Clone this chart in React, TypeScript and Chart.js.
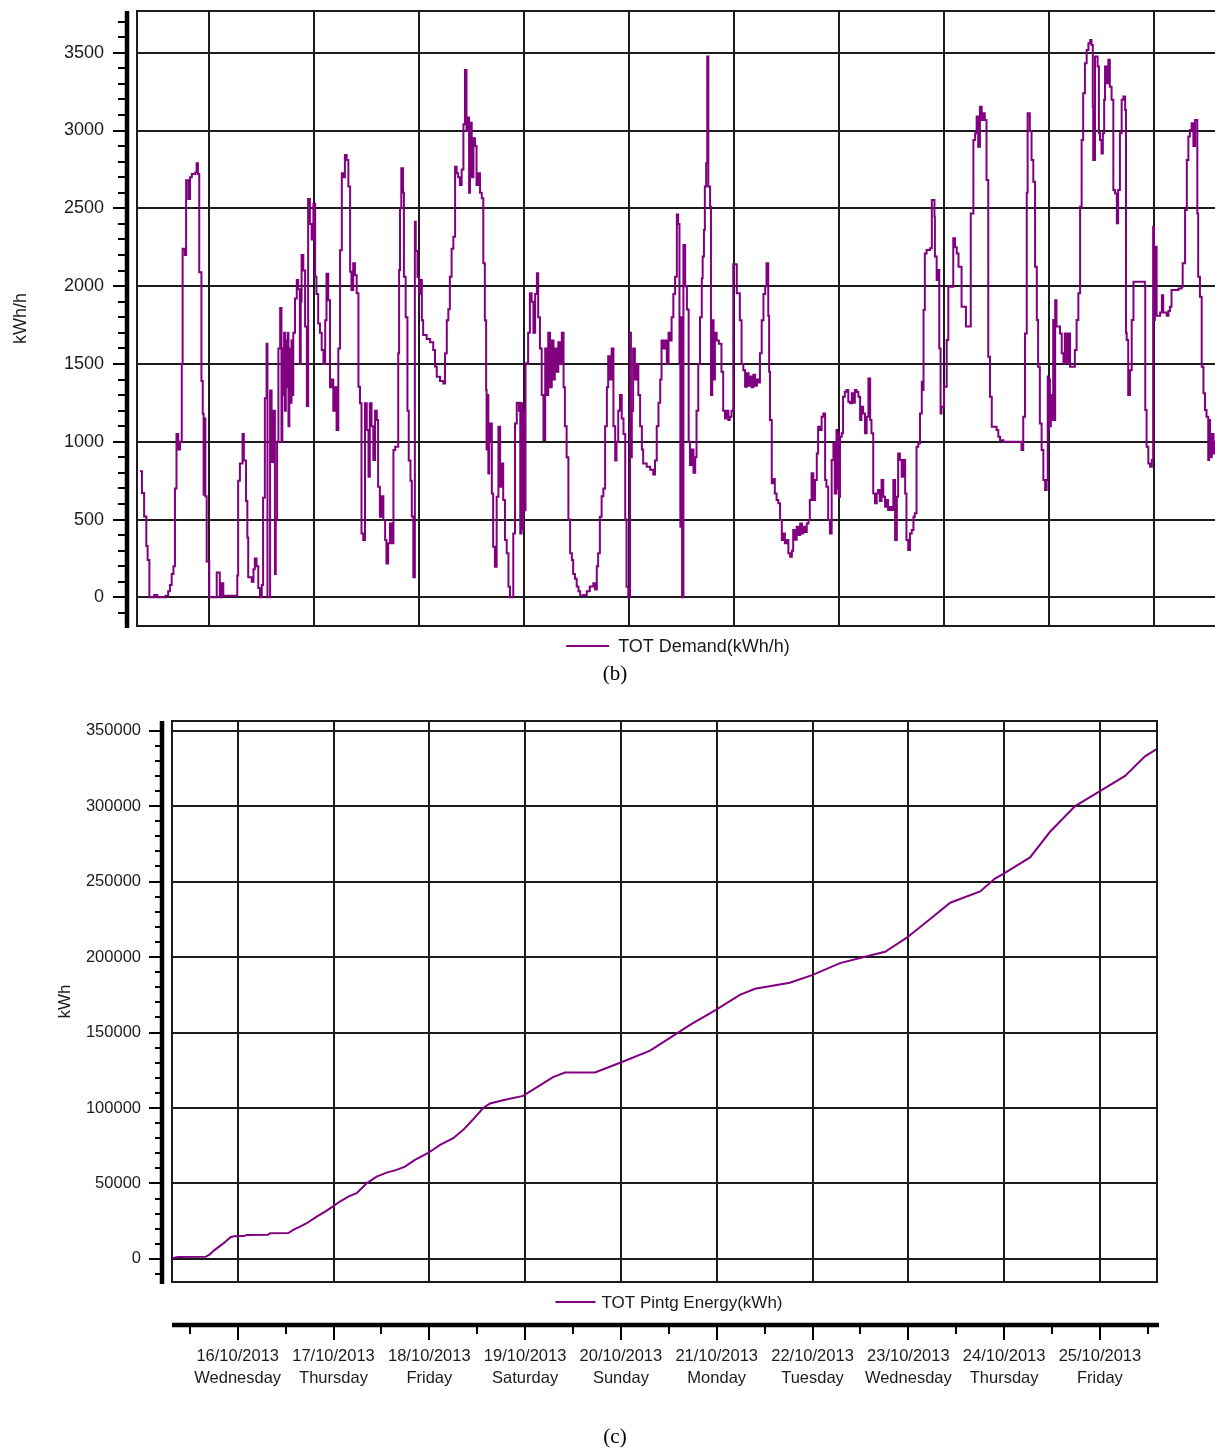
import { useEffect, useRef } from 'react';
import { Chart, registerables } from 'chart.js';

Chart.register(...registerables);

const PURPLE = '#800080';
const INK = '#1c1c1c';
const SANS = '"Liberation Sans", Arial, sans-serif';

// x axis: hours since 16/10/2013 00:00
const dayTickHours = [0, 24, 48, 72, 96, 120, 144, 168, 192, 216];
const halfDayTickHours = [-12, 12, 36, 60, 84, 108, 132, 156, 180, 204, 228];
const dateLabels = ['16/10/2013', '17/10/2013', '18/10/2013', '19/10/2013', '20/10/2013', '21/10/2013', '22/10/2013', '23/10/2013', '24/10/2013', '25/10/2013'];
const weekdayLabels = ['Wednesday', 'Thursday', 'Friday', 'Saturday', 'Sunday', 'Monday', 'Tuesday', 'Wednesday', 'Thursday', 'Friday'];

const demandTicks = [0, 500, 1000, 1500, 2000, 2500, 3000, 3500];
const energyTicks = [0, 50000, 100000, 150000, 200000, 250000, 300000, 350000];

// TOT Demand (kWh/h) — step series
const demandHours = [
  -15.85, -15.4, -14.9, -14.4, -14.1, -13.7, -12.6, -11.9, -10.0, -9.4, -9.0, -8.6, -8.2, -7.85, -7.5, -7.1, -6.7, -6.3, -6.1, -5.6,
  -5.3, -4.8, -4.4, -4.0, -3.2, -2.9, -2.6, -2.3, -1.8, -1.5, -1.3, -1.1, -0.9, -0.6, 0.0,
  1.7, 2.4, 2.8, 3.2, 6.4, 6.6, 7.0, 7.6, 7.9, 8.4, 8.7, 8.9, 9.7, 10.1, 10.4, 10.8, 11.2, 11.6, 12.0, 12.3,
  12.7, 13.1, 13.3, 13.9, 14.25, 14.6, 15.0, 15.2, 15.5, 15.8, 16.2, 16.5, 16.7, 16.9, 17.1, 17.3, 17.5, 17.7, 17.9, 18.1,
  18.3, 18.6, 18.8, 19.0, 19.2, 19.6, 20.0, 20.3, 20.7, 20.9, 21.1, 21.5, 21.9, 22.3, 22.6, 23.0, 23.4, 23.8, 24.2,
  24.5, 24.9, 25.3, 25.7, 26.1, 26.5, 26.8, 27.2, 27.6, 28.0, 28.35, 28.7, 29.1, 29.5, 29.9, 30.3, 30.6, 31.0, 31.4, 31.8,
  32.2, 32.5, 32.9, 33.3, 33.7, 34.1, 34.45, 34.8, 35.2, 35.6, 36.0, 36.4, 36.7, 37.1, 37.5, 37.9, 38.3, 38.6, 39.0, 39.4,
  39.8, 40.2, 40.5, 40.9, 41.3, 41.7, 42.1, 42.5, 43.2, 43.4, 43.6, 43.9, 44.3, 44.5, 44.9, 45.3, 45.6, 46.0, 46.3, 46.65,
  47.0, 47.2, 47.6, 48.0,
  48.3, 48.6, 48.9, 49.7, 50.5, 51.2, 51.6, 52.0, 52.75, 53.5, 53.9, 54.3, 54.65, 55.0, 55.4, 55.8, 56.2, 56.55, 56.9, 57.3,
  57.7, 58.1, 58.45, 58.8, 59.2, 59.4, 59.6, 60.0, 60.4, 60.75, 61.1, 61.5, 61.9, 62.3, 62.65, 63.0, 63.3, 63.4, 63.6, 63.8,
  64.0, 64.2, 64.6, 64.9, 65.3, 65.7, 66.1, 66.5, 66.85, 67.2, 67.6, 68.0, 68.4, 68.75, 69.5, 69.9, 70.3, 70.8, 71.0, 71.1,
  71.4, 71.6, 71.8, 72.1, 72.3,
  72.9, 73.3, 73.7, 74.1, 74.5, 74.9, 75.2, 75.6, 76.0, 76.4, 76.8, 77.1, 77.5, 77.9, 78.3, 78.7, 79.0, 79.4, 79.8, 80.2,
  80.6, 81.0, 81.3, 81.7, 82.1, 82.5, 82.9, 83.2, 83.6, 84.0, 84.4, 84.8, 85.5, 86.3, 87.0, 87.8, 88.2, 88.6, 88.9, 89.3,
  89.7, 90.1, 90.5, 90.9, 91.2, 91.6, 92.0, 92.4, 92.8, 93.1, 93.5, 93.9, 94.3, 94.7, 95.1, 95.4, 95.8,
  96.2, 96.4, 96.6, 96.9, 97.3, 97.7, 98.1, 98.5, 98.9, 99.2, 100.0, 100.8, 101.5, 101.9, 102.3, 102.7, 103.1, 103.4, 103.8, 104.2,
  104.6, 105.0, 105.3, 105.7, 106.1, 106.5, 106.9, 107.2, 107.5, 107.7, 107.9, 108.1, 108.4, 108.8, 109.2, 109.6, 109.9, 110.3, 110.7, 111.1,
  111.4, 111.8, 112.2, 112.6, 112.8, 113.1, 113.3, 113.6, 113.85, 114.1, 114.5, 114.7, 115.0, 115.3, 115.6, 116.0, 116.5, 117.1, 117.5, 117.9,
  118.3, 118.7, 119.0, 119.4,
  119.8, 120.6, 121.3, 121.7, 122.1, 122.5, 122.9, 123.3, 123.6, 124.0, 124.4, 124.8, 125.2, 125.5, 125.9, 126.3, 126.7, 127.1, 127.4, 127.8,
  128.0, 128.2, 128.6, 128.9, 129.3, 129.7, 130.1, 130.5, 130.9, 131.2, 131.6, 132.0, 132.4, 132.8, 133.2, 133.5, 133.9, 134.3, 134.7, 135.1,
  135.5, 135.8, 136.2, 136.6, 137.0, 137.3, 137.7, 138.1, 138.5, 138.9, 139.2, 139.6, 140.0, 140.4, 140.8, 141.1, 141.5, 141.9, 142.3, 142.7,
  143.0, 143.4, 143.6, 143.8, 144.0, 144.2, 144.6,
  144.9, 145.3, 145.7, 146.1, 146.5, 146.9, 147.2, 147.6, 148.0, 148.4, 148.8, 149.1, 149.5, 149.9, 150.3, 150.7, 151.1, 151.4, 151.8, 152.2,
  152.6, 152.9, 153.3, 153.7, 154.1, 154.5, 154.9, 155.2, 155.6, 156.0, 156.4, 156.8, 157.2, 157.5, 157.9, 158.3, 158.7, 159.1, 159.4, 159.8,
  160.2, 160.6, 161.0, 161.3, 161.7, 162.1, 162.5, 162.9, 163.1, 163.3, 163.6, 164.0, 164.8, 165.2, 165.8, 165.9, 166.3, 166.7, 166.9, 167.2,
  167.4, 168.0,
  168.6, 168.97, 170.1, 170.5, 170.9, 171.3, 172.0, 173.0, 174.1, 174.7, 175.1, 175.45, 175.8, 176.2, 176.6, 176.95, 177.3, 177.7, 178.1, 178.5,
  178.9, 180.0, 180.4, 180.8, 181.55, 185.7, 186.1, 186.5, 186.9, 187.1, 187.6, 188.0, 188.4, 188.8, 189.2, 189.5, 189.9, 190.3, 190.7, 191.1,
  191.45, 191.7, 191.8,
  192.0, 192.2, 192.4, 192.6, 192.95, 193.2, 193.4, 193.7, 194.5, 194.9, 195.3, 195.6, 196.0, 196.4, 196.8, 197.9, 198.3, 198.7, 199.1, 199.45,
  199.8, 200.2, 200.6, 201.0, 201.4, 201.7, 202.0, 202.1, 202.5, 203.1, 203.4, 203.65, 204.0, 204.3, 204.6, 204.8, 205.2, 205.55, 205.9, 206.3,
  206.7, 207.1, 207.5, 207.8, 208.2, 208.6, 209.0, 209.4, 209.6, 209.75, 210.1, 210.5, 210.9, 211.3, 213.9, 214.0, 214.3, 214.7, 215.1, 215.5,
  215.8,
  216.0, 216.2, 216.6, 217.4, 217.8, 218.1, 218.9, 219.3, 219.65, 220.0, 221.6, 222.3, 222.55, 223.1, 223.5, 223.85, 224.2, 224.6, 225.0, 225.4,
  225.9, 226.1, 226.5, 226.9, 227.3, 227.65, 228.0, 228.4, 228.6, 228.8, 229.2, 229.6, 229.95, 230.3,
];
const demandValues = [
  810, 670, 520, 330, 240, 0, 15, 0, 10, 40, 80, 150, 200, 700, 1050, 950, 1000, 1500, 2240, 2200,
  2680, 2560, 2700, 2720, 2730, 2790, 2720, 2090, 1390, 1180, 660, 1150, 650, 230, 0,
  160, 0, 90, 10, 140, 750, 860, 1050, 880, 620, 385, 130, 100, 180, 250, 200, 60, 0, 80, 640,
  1280, 1630, 0, 1330, 870, 1200, 150, 500, 1000, 1600, 1860, 1000, 1600, 1300, 1700, 1200, 1650, 1350, 1700, 1100,
  1600, 1250, 1650, 1300, 1700, 1920, 2040, 1980, 1500, 1900, 2200, 2100, 1740, 1230, 2560, 2400, 2300, 2530, 2060,
  1950, 1760, 1700, 1590, 1500, 1780, 2080, 1910, 1350, 1400, 1200, 1350, 1075, 1600, 2230, 2725, 2700, 2843, 2811, 2640,
  2093, 1975, 2147, 2070, 1954, 1354, 1247, 411, 368, 1247, 1075, 775, 1247, 1100, 882, 1200, 1140, 711, 518, 650,
  497, 368, 218, 347, 475, 347, 947, 968, 1568, 2104, 2500, 2757, 2600, 2060, 1800, 1200, 880, 750, 520, 130,
  2414, 2226, 2058, 1950,
  2040, 1780, 1686, 1660, 1640, 1590, 1483, 1418, 1390, 1375, 1568, 1780, 1852, 2061, 2240, 2317, 2767, 2725, 2700, 2650,
  2750, 3040, 3389, 2997, 3083, 2600, 3050, 2700, 2950, 2900, 2650, 2725, 2600, 2564, 2147, 1780, 1332, 950, 1300, 796,
  1000, 1118, 668, 325, 197, 647, 1097, 711, 860, 625, 368, 283, 68, 0, 411, 1118, 1250, 1200, 1250, 411,
  1247, 440, 1200, 560, 1504,
  1700, 1954, 1900, 1700, 1950, 2082, 1800, 1600, 1300, 1011, 1600, 1300, 1700, 1350, 1650, 1400, 1600, 1450, 1640, 1500,
  1700, 1350, 1100, 900, 500, 283, 240, 150, 120, 70, 40, 10, 15, 40, 70, 90, 50, 200, 283, 518,
  650, 700, 1100, 1350, 1550, 1400, 1600, 1100, 880, 1000, 1200, 1300, 1150, 1050, 500, 68, 0,
  1700, 900, 1200, 1600, 1400, 1500, 1300, 1100, 950, 860, 840, 820, 790, 880, 1100, 1250, 1400, 1650, 1600, 1650,
  1500, 1700, 1650, 1800, 1950, 2061, 2460, 2400, 1500, 454, 1800, 0, 2264, 2000, 1850, 1000, 850, 950, 800, 900,
  1200, 1500, 1800, 2050, 2190, 2360, 2640, 2790, 3475, 2640, 2510, 1300, 1780, 1400, 1700, 1650, 1630, 1450, 1200, 1150,
  1200, 1140, 1160, 1200,
  2140, 1954, 1780, 1500, 1460, 1354, 1440, 1360, 1420, 1350, 1430, 1360, 1400, 1380, 1568, 1780, 1950, 2000, 2147, 1810,
  1450, 1140, 733, 760, 668, 625, 604, 497, 368, 411, 347, 368, 283, 261, 300, 433, 370, 454, 400, 475,
  411, 454, 420, 475, 497, 625, 797, 625, 754, 925, 1097, 1075, 1160, 1182, 754, 711, 497, 411, 882, 990,
  668, 1075, 700, 1050, 647, 1032, 1054,
  1289, 1322, 1332, 1257, 1247, 1311, 1250, 1332, 1320, 1289, 1140, 1225, 1182, 1054, 1160, 1407, 1140, 1054, 668, 604,
  668, 690, 620, 754, 647, 582, 625, 561, 580, 561, 754, 368, 647, 925, 882, 775, 882, 668, 368, 304,
  411, 433, 518, 540, 968, 990, 1182, 1386, 1332, 1846, 2210, 2232, 2243, 2553, 2446, 2190, 2039, 2104, 1600, 1182,
  1225, 1354,
  1654, 1996, 2307, 2250, 2210, 2125, 1868, 1740, 2467, 2939, 2982, 3090, 2896, 3153, 3068, 3111, 3068, 2682, 1547, 1289,
  1097, 1075, 1032, 1010, 1000, 947, 1161, 1696, 2600, 3111, 2997, 2811, 2671, 2125, 1782, 1482, 1118, 947, 754, 690,
  754, 1420, 1075,
  1400, 1100, 1300, 1140, 1782, 1140, 1910, 1740, 1696, 1568, 1504, 1696, 1504, 1696, 1482, 1589, 1782, 1954, 2510, 2939,
  3239, 3432, 3518, 3561, 3582, 3550, 3153, 2811, 3475, 3411, 2982, 2939, 2853, 2982, 3197, 3411, 3304, 3454, 3282, 3197,
  2618, 2596, 2404, 2618, 2982, 3197, 3218, 3132, 1700, 1654, 1300, 1460, 1782, 2028, 1996, 1204, 968, 860, 840, 882,
  2382,
  1782, 2253, 1810, 1830, 1942, 1830, 1810, 1840, 1868, 1975, 1985, 1996, 2147, 2489, 2811, 2961, 3004, 3047, 2900, 3068,
  2467, 2061, 1932, 1482, 1311, 1204, 1160, 882, 1140, 900, 1050, 925, 1000, 900,
];

// TOT Pintg Energy (kWh) — cumulative series
const energyHours = [
  -16.4, -15.0, -8.0, -7.0, -6.0, -4.5, -3.0, -1.8, -1.0, 1.5, 2.3, 7.6, 8.1, 12.7, 13.9, 15.6, 17.3, 19.8, 21.9, 23.8,
  25.6, 27.7, 29.8, 32.3, 34.8, 37.3, 39.8, 41.9, 44.4, 47.6, 50.7, 54.0, 56.5, 59.0, 61.5, 63.2, 67.0, 71.5, 75.7, 79.0,
  82.0, 89.5, 95.8, 103.3, 108.0, 113.3, 119.8, 125.8, 129.6, 138.3, 143.9, 150.9, 158.4, 162.2, 167.7, 173.4, 178.5, 186.0, 189.7, 191.7,
  198.5, 203.5, 209.8, 216.0, 222.3, 227.3, 230.3,
];
const energyValues = [
  500, 1200, 1400, 3000, 5500, 8500, 11500, 14400, 15000, 15100, 15900, 16000, 17000, 17100, 19200, 21400, 23650, 28000, 31300, 34650,
  38000, 41300, 43500, 50100, 54500, 57200, 59000, 61100, 65600, 70000, 75500, 80000, 85500, 92500, 100000, 103000, 105500, 108000, 115000, 120500,
  123500, 123500, 130000, 138000, 146000, 155000, 165000, 175000, 179000, 183000, 188000, 196000, 201000, 203500, 213000, 225000, 236000, 243500, 252000, 255000,
  266000, 283000, 300000, 310000, 320000, 333000, 338000,
];

const decorPlugin = {
  id: 'decor',
  afterDatasetsDraw(chart: any, _args: any, o: any) {
    const { ctx, chartArea: a } = chart;
    const ys = chart.scales.y;
    const xs = chart.scales.x;
    ctx.save();
    // plot frame
    ctx.strokeStyle = INK;
    ctx.lineWidth = 2;
    ctx.strokeRect(a.left, a.top, a.right - a.left, a.bottom - a.top);

    // detached thick y axis with major / minor tick marks
    const ax = a.left - 10;
    ctx.strokeStyle = '#000';
    ctx.lineWidth = 4.5;
    ctx.beginPath();
    ctx.moveTo(ax, a.top);
    ctx.lineTo(ax, a.bottom + 2);
    ctx.stroke();
    ctx.lineWidth = 2;
    const first = Math.ceil(ys.min / o.minorStep) * o.minorStep;
    for (let v = first; v <= ys.max; v += o.minorStep) {
      const y = Math.round(ys.getPixelForValue(v));
      const major = Math.abs(v % o.majorStep) < 1e-6;
      const len = major ? o.majorLen : o.minorLen;
      ctx.beginPath();
      ctx.moveTo(ax - 2, y);
      ctx.lineTo(ax - 2 - len, y);
      ctx.stroke();
    }

    // legend centred under the plot
    const label = chart.data.datasets[0].label;
    ctx.font = `${o.legendSize}px ${SANS}`;
    const tw = ctx.measureText(label).width;
    const total = o.legendLine + o.legendGap + tw;
    const cx = (a.left + a.right) / 2 + o.legendShift;
    const sx = cx - total / 2;
    const ly = a.bottom + 20;
    ctx.strokeStyle = PURPLE;
    ctx.lineWidth = 2;
    ctx.beginPath();
    ctx.moveTo(sx, ly);
    ctx.lineTo(sx + o.legendLine, ly);
    ctx.stroke();
    ctx.fillStyle = INK;
    ctx.textBaseline = 'middle';
    ctx.textAlign = 'left';
    ctx.fillText(label, sx + o.legendLine + o.legendGap, ly + 1);

    // detached date axis below the legend
    if (o.dateAxis) {
      const yl = a.bottom + 43;
      ctx.strokeStyle = '#000';
      ctx.lineWidth = 4.5;
      ctx.beginPath();
      ctx.moveTo(a.left, yl);
      ctx.lineTo(a.right + 2, yl);
      ctx.stroke();
      ctx.lineWidth = 2;
      dayTickHours.forEach((h) => {
        const x = Math.round(xs.getPixelForValue(h));
        ctx.beginPath();
        ctx.moveTo(x, yl);
        ctx.lineTo(x, yl + 15);
        ctx.stroke();
      });
      halfDayTickHours.forEach((h) => {
        const x = Math.round(xs.getPixelForValue(h));
        ctx.beginPath();
        ctx.moveTo(x, yl);
        ctx.lineTo(x, yl + 9);
        ctx.stroke();
      });
    }
    ctx.restore();
  },
};

const plainNumber = (v: any) => String(v);

function topConfig(): any {
  return {
    type: 'line',
    data: {
      datasets: [
        {
          label: 'TOT Demand(kWh/h)',
          data: demandHours.map((h, i) => ({ x: h, y: demandValues[i] })),
          borderColor: PURPLE,
          borderWidth: 2,
          pointRadius: 0,
          stepped: true,
          fill: false,
        },
      ],
    },
    options: {
      animation: false,
      responsive: false,
      events: [],
      layout: { padding: { top: 11, right: 0, bottom: 0, left: 0 } },
      plugins: {
        legend: { display: false },
        tooltip: { enabled: false },
        decor: { minorStep: 100, majorStep: 500, majorLen: 12, minorLen: 7, legendSize: 18, legendLine: 43, legendGap: 9, legendShift: 1, dateAxis: false },
      },
      scales: {
        x: {
          type: 'linear',
          min: -16.53,
          max: 230.4,
          afterBuildTicks: (s: any) => { s.ticks = dayTickHours.map((v) => ({ value: v })); },
          ticks: { display: false },
          grid: { color: INK, lineWidth: 2, drawTicks: false },
          border: { display: false },
          afterFit: (s: any) => { s.height = 42; s.paddingLeft = 0; s.paddingRight = 0; },
        },
        y: {
          type: 'linear',
          min: -184,
          max: 3768,
          afterBuildTicks: (s: any) => { s.ticks = demandTicks.map((v) => ({ value: v })); },
          ticks: { font: { family: SANS, size: 18 }, color: INK, padding: 33, callback: plainNumber },
          grid: { color: INK, lineWidth: 2, drawTicks: false },
          border: { display: false },
          title: { display: true, text: 'kWh/h', color: INK, font: { family: SANS, size: 18 }, padding: { top: 10.5, bottom: 0 } },
          afterFit: (s: any) => { s.width = 137; s.paddingTop = 0; s.paddingBottom = 0; },
        },
      },
    },
    plugins: [decorPlugin],
  };
}

function bottomConfig(): any {
  return {
    type: 'line',
    data: {
      datasets: [
        {
          label: 'TOT Pintg Energy(kWh)',
          data: energyHours.map((h, i) => ({ x: h, y: energyValues[i] })),
          borderColor: PURPLE,
          borderWidth: 2,
          pointRadius: 0,
          tension: 0,
          fill: false,
        },
      ],
    },
    options: {
      animation: false,
      responsive: false,
      events: [],
      layout: { padding: { top: 31, right: 58, bottom: 0, left: 0 } },
      plugins: {
        legend: { display: false },
        tooltip: { enabled: false },
        decor: { minorStep: 10000, majorStep: 50000, majorLen: 11, minorLen: 5, legendSize: 17, legendLine: 40, legendGap: 6, legendShift: 4.5, dateAxis: true },
      },
      scales: {
        x: {
          type: 'linear',
          min: -16.46,
          max: 230.3,
          afterBuildTicks: (s: any) => { s.ticks = dayTickHours.map((v) => ({ value: v })); },
          ticks: {
            autoSkip: false,
            maxRotation: 0,
            minRotation: 0,
            padding: 63,
            color: INK,
            font: { family: SANS, size: 16.5, lineHeight: 22 / 16.5 },
            callback: (_v: any, i: number) => [dateLabels[i], weekdayLabels[i]],
          },
          grid: { color: INK, lineWidth: 2, drawTicks: false },
          border: { display: false },
          afterFit: (s: any) => { s.height = 166; s.paddingLeft = 0; s.paddingRight = 0; },
        },
        y: {
          type: 'linear',
          min: -15300,
          max: 356400,
          afterBuildTicks: (s: any) => { s.ticks = energyTicks.map((v) => ({ value: v })); },
          ticks: { font: { family: SANS, size: 16.5 }, color: INK, padding: 31, callback: plainNumber },
          grid: { color: INK, lineWidth: 2, drawTicks: false },
          border: { display: false },
          title: { display: true, text: 'kWh', color: INK, font: { family: SANS, size: 17 }, padding: { top: 55, bottom: 0 } },
          afterFit: (s: any) => { s.width = 172; s.paddingTop = 0; s.paddingBottom = 0; },
        },
      },
    },
    plugins: [decorPlugin],
  };
}

const captionStyle: any = {
  position: 'absolute',
  left: 0,
  width: 1230,
  textAlign: 'center',
  fontFamily: '"Liberation Serif", "Times New Roman", serif',
  fontSize: 21,
  lineHeight: '24px',
  color: '#000',
};

export default function App() {
  const topRef = useRef<HTMLCanvasElement>(null);
  const botRef = useRef<HTMLCanvasElement>(null);

  useEffect(() => {
    const c1 = new Chart(topRef.current as HTMLCanvasElement, topConfig());
    const c2 = new Chart(botRef.current as HTMLCanvasElement, bottomConfig());
    return () => {
      c1.destroy();
      c2.destroy();
    };
  }, []);

  return (
    <div style={{ position: 'absolute', left: 0, top: 0, width: 1215, height: 1448, overflow: 'hidden', background: '#fff' }}>
      <canvas ref={topRef} width={1217} height={668} style={{ position: 'absolute', left: 0, top: 0 }} />
      <canvas ref={botRef} width={1215} height={758} style={{ position: 'absolute', left: 0, top: 690 }} />
      <div style={{ ...captionStyle, top: 661 }}>(b)</div>
      <div style={{ ...captionStyle, top: 1424 }}>(c)</div>
    </div>
  );
}
